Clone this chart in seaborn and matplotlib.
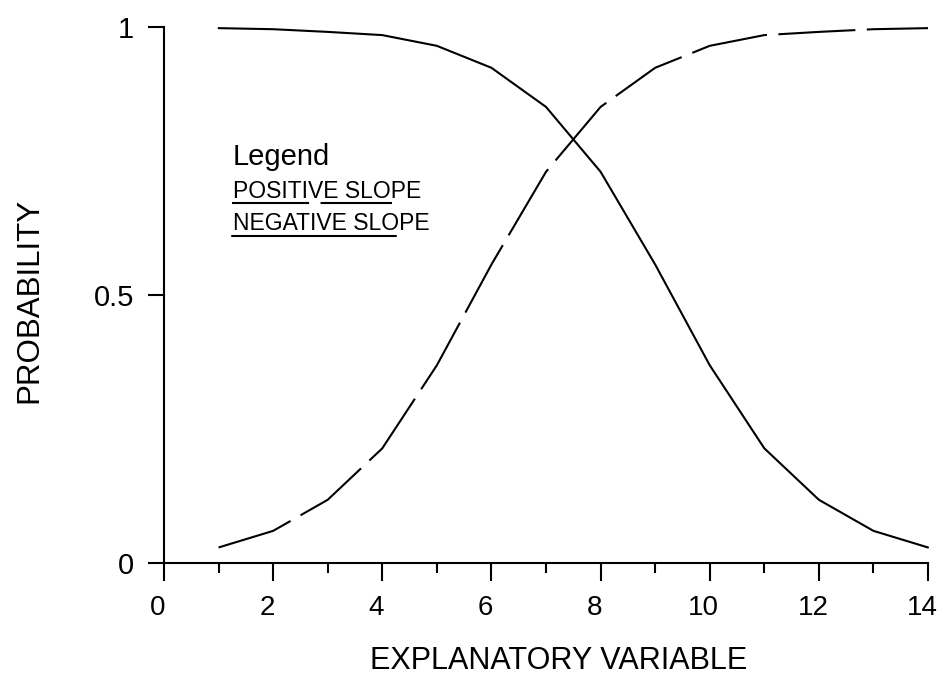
import numpy as np
import pandas as pd
import matplotlib
matplotlib.use("Agg")
import matplotlib.pyplot as plt
import matplotlib.transforms as mtransforms
import seaborn as sns

# Explanatory variable values and fitted probabilities
x_values = [1, 2, 3, 4, 5, 6, 7, 8, 9, 10, 11, 12, 13, 14]
negative_slope = [0.998, 0.996, 0.991, 0.985, 0.965, 0.924, 0.851,
                  0.730, 0.557, 0.369, 0.214, 0.118, 0.060, 0.029]
positive_slope = [0.029, 0.060, 0.118, 0.214, 0.369, 0.557, 0.730,
                  0.851, 0.924, 0.965, 0.985, 0.991, 0.996, 0.998]

x_ticks = [0, 2, 4, 6, 8, 10, 12, 14]
y_ticks = [0, 0.5, 1]
y_tick_labels = ["0", "0.5", "1"]

sns.set_style("ticks")
plt.rcParams["font.family"] = ["Liberation Sans", "DejaVu Sans"]
plt.rcParams["text.color"] = "black"
plt.rcParams["axes.labelcolor"] = "black"

df = pd.DataFrame({
    "x": x_values * 2,
    "p": positive_slope + negative_slope,
    "series": ["POSITIVE SLOPE"] * len(x_values) + ["NEGATIVE SLOPE"] * len(x_values),
})

fig = plt.figure(figsize=(9.41, 6.75), dpi=100)
ax = fig.add_axes([0.1743, 0.1659, 0.8119, 0.794])

lw = 1.5
dash = (37, 5.5)
sns.lineplot(data=df, x="x", y="p", style="series",
             dashes={"POSITIVE SLOPE": dash, "NEGATIVE SLOPE": ""},
             color="black", linewidth=lw, legend=False, ax=ax, clip_on=False)

ax.set_xlim(0, 14)
ax.set_ylim(0, 1)
ax.set_xticks(x_ticks)
ax.set_xticks(range(1, 14, 2), minor=True)
ax.set_yticks(y_ticks)
ax.set_yticklabels(y_tick_labels)
ax.tick_params(axis="x", which="major", length=13, width=1.5, pad=10,
               labelsize=20, color="black", labelcolor="black")
ax.tick_params(axis="x", which="minor", length=7, width=1.5, color="black")
ax.tick_params(axis="y", which="major", length=11.5, width=1.5, pad=10,
               labelsize=21, color="black", labelcolor="black")
for side in ("top", "right"):
    ax.spines[side].set_visible(False)
for side in ("left", "bottom"):
    ax.spines[side].set_linewidth(1.5)
    ax.spines[side].set_color("black")

# x tick labels sit slightly left of their ticks
shift = mtransforms.ScaledTranslation(-6 / 100, 0, fig.dpi_scale_trans)
for lbl in ax.get_xticklabels():
    lbl.set_transform(lbl.get_transform() + shift)

ax.set_xlabel("EXPLANATORY VARIABLE", fontsize=22)
ax.set_ylabel("PROBABILITY", fontsize=22.5)
ax.xaxis.set_label_coords(0.517, -0.155)
ax.yaxis.set_label_coords(-0.157, 0.49)

# Legend block: heading, series names and their line samples underneath
ax.text(1.26, 0.743, "Legend", fontsize=21, ha="left", va="baseline")
ax.text(1.26, 0.681, "POSITIVE SLOPE", fontsize=16.5, ha="left", va="baseline")
ax.text(1.26, 0.621, "NEGATIVE SLOPE", fontsize=16.5, ha="left", va="baseline")
ax.plot([1.24, 4.17], [0.6716, 0.6716], color="black", linewidth=lw,
        dashes=dash)
ax.plot([1.24, 4.26], [0.610, 0.610], color="black", linewidth=lw)

fig.savefig("out.png", dpi=100, facecolor="white")
